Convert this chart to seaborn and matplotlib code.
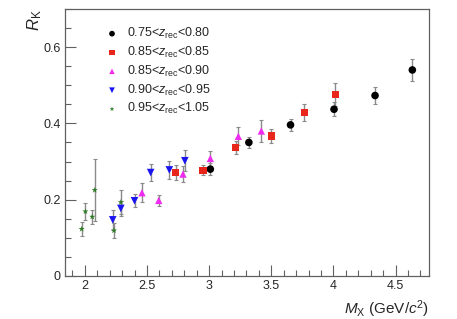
import numpy as np
import pandas as pd
import matplotlib
matplotlib.use("Agg")
import matplotlib.pyplot as plt
from matplotlib.ticker import MultipleLocator
import seaborn as sns

labels = [
    r"0.75<$z_{\mathrm{rec}}$<0.80",
    r"0.85<$z_{\mathrm{rec}}$<0.85",
    r"0.85<$z_{\mathrm{rec}}$<0.90",
    r"0.90<$z_{\mathrm{rec}}$<0.95",
    r"0.95<$z_{\mathrm{rec}}$<1.05",
]

mx_a = [3.01, 3.32, 3.655, 4.005, 4.335, 4.635]
rk_a = [0.280, 0.350, 0.396, 0.437, 0.473, 0.540]
err_a = [0.016, 0.015, 0.015, 0.018, 0.022, 0.029]

mx_b = [2.73, 2.95, 3.215, 3.50, 3.765, 4.015]
rk_b = [0.271, 0.277, 0.336, 0.367, 0.428, 0.476]
err_b = [0.020, 0.013, 0.017, 0.018, 0.023, 0.031]

mx_c = [2.46, 2.595, 2.79, 3.01, 3.235, 3.42]
rk_c = [0.218, 0.198, 0.267, 0.308, 0.366, 0.380]
err_c = [0.025, 0.014, 0.020, 0.019, 0.024, 0.030]

mx_d = [2.225, 2.29, 2.40, 2.53, 2.68, 2.805]
rk_d = [0.147, 0.177, 0.197, 0.271, 0.278, 0.302]
err_d = [0.027, 0.020, 0.017, 0.023, 0.024, 0.027]

mx_e = [1.975, 2.005, 2.06, 2.08, 2.235, 2.29]
rk_e = [0.123, 0.169, 0.155, 0.225, 0.119, 0.193]
err_e = [0.019, 0.022, 0.019, 0.082, 0.020, 0.031]

colors = ["black", "#e8261c", "#ee2cf0", "#1a14f0", "#2e7a26"]
markers = ["o", "s", "^", "v", "*"]
sizes = [30, 28, 28, 30, 22]

sets = [(mx_a, rk_a, err_a), (mx_b, rk_b, err_b), (mx_c, rk_c, err_c),
        (mx_d, rk_d, err_d), (mx_e, rk_e, err_e)]

frames = []
for lab, (x, y, e) in zip(labels, sets):
    frames.append(pd.DataFrame({"mx": x, "rk": y, "err": e, "group": lab}))
df = pd.concat(frames, ignore_index=True)

sns.set_theme(style="ticks")
plt.rcParams.update({
    "font.family": ["Liberation Sans", "DejaVu Sans"],
    "mathtext.fontset": "custom",
    "mathtext.rm": "Liberation Sans",
    "mathtext.it": "Liberation Sans:italic",
    "mathtext.bf": "Liberation Sans:bold",
})

fig = plt.figure(figsize=(4.57, 3.19), dpi=100)
ax = fig.add_axes([0.142, 0.135, 0.797, 0.837])

ax.errorbar(df["mx"], df["rk"], yerr=df["err"], fmt="none", ecolor="#8a8a8a",
            elinewidth=1.0, capsize=1.2, capthick=0.8, zorder=1)

for lab, c, m, s in zip(labels, colors, markers, sizes):
    sub = df[df["group"] == lab]
    sns.scatterplot(data=sub, x="mx", y="rk", color=c, marker=m, s=s,
                    edgecolor="none", linewidth=0, ax=ax, label=lab, zorder=3)

ax.set_xlim(1.84, 4.77)
ax.set_ylim(0, 0.70)
ax.xaxis.set_major_locator(MultipleLocator(0.5))
ax.xaxis.set_minor_locator(MultipleLocator(0.1))
ax.yaxis.set_major_locator(MultipleLocator(0.2))
ax.yaxis.set_minor_locator(MultipleLocator(0.05))
ax.set_xticks([2, 2.5, 3, 3.5, 4, 4.5])
ax.set_xticklabels(["2", "2.5", "3", "3.5", "4", "4.5"])
ax.set_yticks([0, 0.2, 0.4, 0.6])
ax.set_yticklabels(["0", "0.2", "0.4", "0.6"])

for sp in ax.spines.values():
    sp.set_color("#606060")
    sp.set_linewidth(0.9)
ax.tick_params(which="major", direction="in", length=8, width=0.8, color="#606060",
               labelsize=9, pad=3)
ax.tick_params(which="minor", direction="in", length=4, width=0.8, color="#606060")
ax.tick_params(axis="x", which="both", top=False)
ax.tick_params(axis="y", which="both", right=False)

ax.set_xlabel(r"$M_{\mathrm{X}}$ (GeV/$c^{2}$)", fontsize=11, labelpad=2)
ax.xaxis.set_label_coords(1.0, -0.085)
ax.xaxis.label.set_horizontalalignment("right")
ax.set_ylabel(r"$R_{\mathrm{K}}$", fontsize=12)
ax.yaxis.set_label_coords(-0.11, 1.0)
ax.yaxis.label.set_verticalalignment("top")
ax.yaxis.label.set_horizontalalignment("right")

leg = ax.legend(loc="upper left", bbox_to_anchor=(0.095, 0.955), frameon=False,
                fontsize=9, handletextpad=0.6, labelspacing=0.3, markerscale=0.75,
                handlelength=1.2, borderaxespad=0)

fig.savefig("out.png", dpi=100)
